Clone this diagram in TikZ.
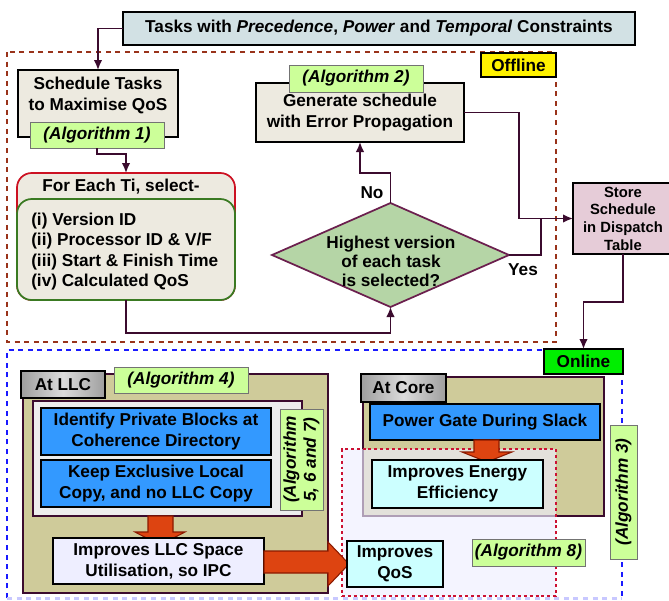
\documentclass[tikz,border=0pt]{standalone}
\usepackage{fontspec}
\setmainfont{Liberation Sans}
\usetikzlibrary{arrows.meta,shapes.geometric}
\definecolor{tasksfill}{HTML}{D2E1E4}
\definecolor{beige}{HTML}{EDEAE0}
\definecolor{algfill}{HTML}{CCFF99}
\definecolor{diamfill}{HTML}{B5D5A6}
\definecolor{diamline}{HTML}{6B1F4E}
\definecolor{conncol}{HTML}{3B0B2E}
\definecolor{storefill}{HTML}{E6CCD8}
\definecolor{olive}{HTML}{CFCB9A}
\definecolor{bluebox}{HTML}{3399FF}
\definecolor{lav}{HTML}{EEEEFF}
\definecolor{cyanbox}{HTML}{CCFFFF}
\definecolor{orfill}{HTML}{DD4411}
\definecolor{orline}{HTML}{8B1A00}
\definecolor{offcol}{HTML}{99331A}
\definecolor{oncol}{HTML}{1A1AFF}
\definecolor{onlight}{HTML}{C8C8FF}
\definecolor{reddot}{HTML}{CC1133}
\definecolor{onlgreen}{HTML}{00EE00}
\definecolor{fered}{HTML}{CC1122}
\definecolor{fegreen}{HTML}{3A7A22}
\newcommand\bx[7][]{\node[#1, minimum width={(#5-#3)*0.75pt}, minimum height={(#6-#4)*0.75pt}, inner sep=0pt, outer sep=0pt] (#2) at ({(#3+#5)/2},{(#4+#6)/2}) {#7};}
\begin{document}
\begin{tikzpicture}[x=0.75pt,y=-0.75pt,
  every node/.style={font=\fontsize{12.9pt}{15.75pt}\selectfont\bfseries},
  box/.style={draw=black, line width=1.4pt},
  alg/.style={draw=black!55, line width=0.7pt, fill=algfill, font=\fontsize{12.9pt}{15pt}\selectfont\bfseries\itshape},
  algtxt/.style={font=\fontsize{12.9pt}{15pt}\selectfont\bfseries\itshape, align=center, inner sep=0pt},
  conn/.style={draw=conncol, line width=1.3pt},
  arr/.style={conn, -{Latex[length=7.5pt,width=6.5pt]}},
  offl/.style={draw=offcol, line width=2.2pt, dash pattern=on 3.8pt off 3.4pt},
  onl/.style={draw=oncol, line width=2.2pt, dash pattern=on 3.8pt off 3.4pt},
  olivebox/.style={draw=conncol, line width=1.3pt, fill=olive},
  graylab/.style={draw=black, line width=1.4pt, left color=black!38, right color=black!38, middle color=black!14},
  orar/.style={draw=orline, line width=0.8pt, fill=orfill, line join=miter}
]
\useasboundingbox (0,0) rectangle (669,601);

% frames
\draw[offl] (7,52) rectangle (556,342);
\draw[onl] (7,598) -- (7,350) -- (622,350) -- (622,598);
\draw[onl, draw=onlight] (7,598.5) -- (622,598.5);

% offline part
\bx[box, fill=yellow, line width=1.2pt]{offlab}{481}{53}{556}{77}{Offline}
\bx[box, fill=tasksfill]{tasks}{123}{12}{635}{45}{Tasks with \textit{Precedence}, \textit{Power} and \textit{Temporal} Constraints}
\bx[box, fill=beige]{sched}{18}{70}{178}{137}{}
\node[align=center, inner sep=0pt] (schedt) at (98,95.5) {Schedule Tasks\\to Maximise QoS};
\bx[alg]{alg1}{30}{122}{164}{148}{(Algorithm 1)}

\bx[box, fill=beige, align=center]{gen}{256}{83}{464}{142}{Generate schedule\\with Error Propagation}
\bx[alg]{alg2}{289}{65}{423}{92}{(Algorithm 2)}

\bx[draw=fered, line width=1.3pt, fill=beige, rounded corners=11pt]{fe}{17}{173}{235}{300}{}
\bx[draw=fegreen, line width=1.3pt, fill=beige, rounded corners=11pt]{fein}{17}{199}{235}{300}{}
\node[inner sep=0pt] (fet) at (121,187) {For Each Ti, select-};
\node[align=left, anchor=west, inner sep=0pt, font=\fontsize{12.9pt}{15.4pt}\selectfont\bfseries] (felist) at (31,251.5) {(i) Version ID\\(ii) Processor ID \& V/F\\(iii) Start \& Finish Time\\(iv) Calculated QoS};

\node[diamond, draw=diamline, line width=1.3pt, fill=diamfill, minimum width=237*0.75pt, minimum height=104*0.75pt, inner sep=0pt, outer sep=0pt] (diam) at (390.5,255) {};
\node[align=center, inner sep=0pt, font=\fontsize{12.9pt}{14.25pt}\selectfont\bfseries] (diamt) at (391,261) {Highest version\\of each task\\is selected?};

\bx[box, fill=storefill, align=center, font=\fontsize{11.1pt}{13.3pt}\selectfont\bfseries]{store}{573}{183}{673}{254}{Store\\Schedule\\in Dispatch\\Table}

\draw[arr] (tasks.west) -| (sched.north);
\draw[arr] (alg1.south) -- ++(0,6) -| (fe.north);
\draw[arr] (fe.south) -- ++(0,33) -| (diam.south);
\draw[arr] (diam.north) -- ++(0,-30) -| (gen.south);
\node[inner sep=0pt] (no) at (372,193) {No};
\draw[arr] (gen.east) -- ++(55,0) |- (store.west);
\draw[conn] (diam.east) -- ++(32,0) -- ++(0,-36.5);
\node[inner sep=0pt] (yes) at (523,270) {Yes};

% online part
\bx[olivebox]{llc}{23}{374}{328}{593}{}
\bx[olivebox]{core}{363}{377}{604}{516}{}
\bx[draw=reddot, line width=1.4pt, dash pattern=on 2.2pt off 2.2pt, fill=lav, fill opacity=0.65]{reg}{342}{449}{556}{596}{}

\bx[draw=conncol, line width=0.9pt, fill=black!7]{llcin}{33}{401}{302}{516}{}
\bx[box, fill=bluebox, align=center]{b1}{41}{408}{271}{455}{Identify Private Blocks at\\Coherence Directory}
\bx[box, fill=bluebox, align=center]{b2}{41}{460}{271}{507}{Keep Exclusive Local\\Copy, and no LLC Copy}
\bx[alg]{alg5}{280}{409}{323}{510}{}
\node[algtxt, rotate=90] (alg5t) at (alg5.center) {(Algorithm\\5, 6 and 7)};

\draw[orar] (148,516) -- (173,516) -- (173,532) -- (185,532) -- (160,545) -- (135,532) -- (148,532) -- cycle;
\bx[box, fill=lav, align=center]{imp}{53}{538}{264}{584}{Improves LLC Space\\Utilisation, so IPC}
\draw[orar] (imp.east |- 0,551) -- (328,551) -- (328,542) -- (349,564) -- (328,586) -- (328,573) -- (imp.east |- 0,573) -- cycle;

\bx[graylab]{atllc}{21}{371}{105}{398}{At LLC}
\bx[alg]{alg4}{114}{367}{248}{393}{(Algorithm 4)}

\bx[graylab]{atcore}{361}{374}{446}{402}{At Core}
\bx[box, fill=bluebox]{pg}{370}{404}{600}{440}{Power Gate During Slack}
\draw[orar] (474,440) -- (499,440) -- (499,452) -- (512,452) -- (487,462) -- (462,452) -- (474,452) -- cycle;
\bx[box, fill=cyanbox, align=center]{en}{372}{460}{543}{508}{Improves Energy\\Efficiency}
\bx[box, fill=cyanbox, align=center]{qos}{347}{541}{443}{587}{Improves\\QoS}
\bx[alg]{alg8}{472}{539}{585}{566}{(Algorithm 8)}
\bx[alg]{alg3}{610}{425}{637}{559}{}
\node[algtxt, rotate=90] (alg3t) at (alg3.center) {(Algorithm 3)};

\bx[box, fill=onlgreen]{onlab}{544}{349}{623}{374}{Online}
\draw[arr] (store.south) -- ++(0,48) -| (onlab.north);
\end{tikzpicture}
\end{document}
